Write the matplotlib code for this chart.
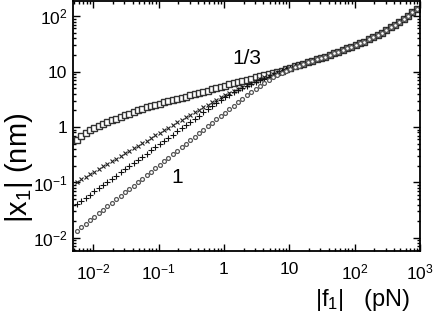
import numpy as np
import matplotlib
matplotlib.use("Agg")
import matplotlib.pyplot as plt
from matplotlib.ticker import FixedLocator, NullFormatter, LogLocator

plt.rcParams['font.family'] = ['Liberation Sans', 'DejaVu Sans']
plt.rcParams['mathtext.fontset'] = 'custom'
plt.rcParams['mathtext.rm'] = 'Liberation Sans'
plt.rcParams['mathtext.it'] = 'Liberation Sans:italic'
plt.rcParams['mathtext.bf'] = 'Liberation Sans:bold'

# force grid (pN), evenly spaced in log, 15 points per decade
force = 10 ** (-2.25 + np.arange(79) / 15)

# shared high-force part (all curves coincide), points 50..78
tail_y = [12.45, 13.18, 13.96, 14.79, 15.67, 16.60, 17.58, 18.62, 19.95, 21.38,
          22.91, 24.55, 26.30, 28.18, 30.20, 32.36, 34.67, 38.02, 41.69, 45.71,
          50.12, 56.23, 63.10, 70.79, 79.43, 89.13, 102.3, 117.5, 134.9]

squares_head = [0.575, 0.676, 0.776, 0.871, 0.955, 1.047, 1.148, 1.230, 1.318, 1.413,
                1.514, 1.622, 1.738, 1.862, 1.995, 2.138, 2.265, 2.399, 2.512, 2.630,
                2.818, 2.951, 3.090, 3.236, 3.388, 3.548, 3.715, 3.890, 4.074, 4.266,
                4.519, 4.786, 5.012, 5.248, 5.559, 5.888, 6.166, 6.457, 6.761, 7.161,
                7.499, 7.852, 8.222, 8.610, 9.016, 9.441, 9.886, 10.47, 11.09, 11.75]

crosses_head = [0.1023, 0.1140, 0.1268, 0.1413, 0.1570, 0.1750, 0.1950, 0.2168, 0.2415, 0.2685,
                0.2992, 0.3334, 0.3707, 0.4130, 0.4592, 0.5117, 0.5702, 0.6339, 0.7063, 0.7852,
                0.8750, 0.9750, 1.084, 1.208, 1.343, 1.496, 1.667, 1.854, 2.065, 2.296,
                2.541, 2.818, 3.126, 3.467, 3.802, 4.169, 4.519, 4.898, 5.309, 5.821,
                6.310, 6.839, 7.328, 7.852, 8.414, 9.016, 9.661, 10.35, 11.09, 11.75]

plus_head = [0.0407, 0.0465, 0.0530, 0.0604, 0.0689, 0.0785, 0.0895, 0.1021, 0.1164, 0.1327,
             0.1514, 0.1726, 0.1968, 0.2244, 0.2559, 0.2917, 0.3327, 0.3793, 0.4325, 0.4932,
             0.5623, 0.6412, 0.7311, 0.8337, 0.9506, 1.084, 1.236, 1.409, 1.607, 1.832,
             2.089, 2.382, 2.716, 3.097, 3.467, 3.846, 4.217, 4.624, 5.070, 5.495,
             5.957, 6.457, 6.998, 7.499, 8.035, 8.710, 9.333, 10.12, 10.96, 11.75]

circles_head = [0.01349, 0.01560, 0.01799, 0.02080, 0.02404, 0.02773, 0.03206, 0.03707, 0.04285, 0.04943,
                0.05715, 0.06607, 0.07621, 0.08810, 0.1019, 0.1175, 0.1358, 0.1570, 0.1816, 0.2094,
                0.2421, 0.2799, 0.3228, 0.3733, 0.4315, 0.4989, 0.5754, 0.6653, 0.7691, 0.8872,
                1.026, 1.186, 1.368, 1.581, 1.828, 2.109, 2.438, 2.818, 3.236, 3.715,
                4.266, 4.898, 5.559, 6.310, 7.079, 7.852, 8.610, 9.441, 10.23, 11.09,
                12.02, 12.88, 13.80]

squares_y = squares_head + tail_y
crosses_y = crosses_head + tail_y
plus_y = plus_head + tail_y
circles_y = circles_head + tail_y[3:]

x_ticks = [1e-2, 1e-1, 1, 10, 1e2, 1e3]
x_ticklabels = [r'$10^{-2}$', r'$10^{-1}$', '1', '10', r'$10^{2}$', r'$10^{3}$']
y_ticks = [1e-2, 1e-1, 1, 10, 1e2]
y_ticklabels = [r'$10^{-2}$', r'$10^{-1}$', '1', '10', r'$10^{2}$']

W, H = 436, 321
fig = plt.figure(figsize=(W / 100, H / 100), dpi=100)
ax = fig.add_axes([73 / W, 1 - 251 / H, (420 - 73) / W, (251 - 1) / H])

ax.plot(force, squares_y, linestyle='none', marker='s', markersize=3.8,
        markerfacecolor='white', markeredgecolor='#333333', markeredgewidth=1.0)
ax.plot(force, crosses_y, linestyle='none', marker='x', markersize=3.0,
        color='#222222', markeredgewidth=0.8)
ax.plot(force, plus_y, linestyle='none', marker='+', markersize=4.0,
        color='#111111', markeredgewidth=0.8)
ax.plot(force, circles_y, linestyle='none', marker='o', markersize=2.8,
        markerfacecolor='white', markeredgecolor='#555555', markeredgewidth=0.9)

ax.set_xscale('log')
ax.set_yscale('log')
ax.set_xlim(0.00489, 1000)
ax.set_ylim(0.0058, 188)

ax.xaxis.set_major_locator(FixedLocator(x_ticks))
ax.set_xticklabels(x_ticklabels)
ax.yaxis.set_major_locator(FixedLocator(y_ticks))
ax.set_yticklabels(y_ticklabels)
ax.xaxis.set_minor_locator(LogLocator(base=10, subs=np.arange(2, 10), numticks=20))
ax.yaxis.set_minor_locator(LogLocator(base=10, subs=np.arange(2, 10), numticks=20))
ax.xaxis.set_minor_formatter(NullFormatter())
ax.yaxis.set_minor_formatter(NullFormatter())

ax.tick_params(which='both', direction='in', top=True, right=True, labelsize=12.5, width=1.0)
ax.tick_params(which='major', length=5)
ax.tick_params(which='minor', length=2.5)
ax.tick_params(axis='x', pad=8)
ax.tick_params(axis='y', pad=4)
for s in ax.spines.values():
    s.set_linewidth(1.3)

fig.text(247 / W, 1 - 59 / H, '1/3', fontsize=15, ha='center', va='center')
fig.text(177 / W, 1 - 178 / H, '1', fontsize=15, ha='center', va='center')

fig.text(363 / W, 1 - 300 / H, r'|f$_1$|   (pN)', fontsize=17, ha='center', va='center')
fig.text(19 / W, 1 - 168 / H, r'|x$_1$| (nm)', fontsize=21, ha='center', va='center', rotation=90)

fig.savefig('out.png', dpi=100)
